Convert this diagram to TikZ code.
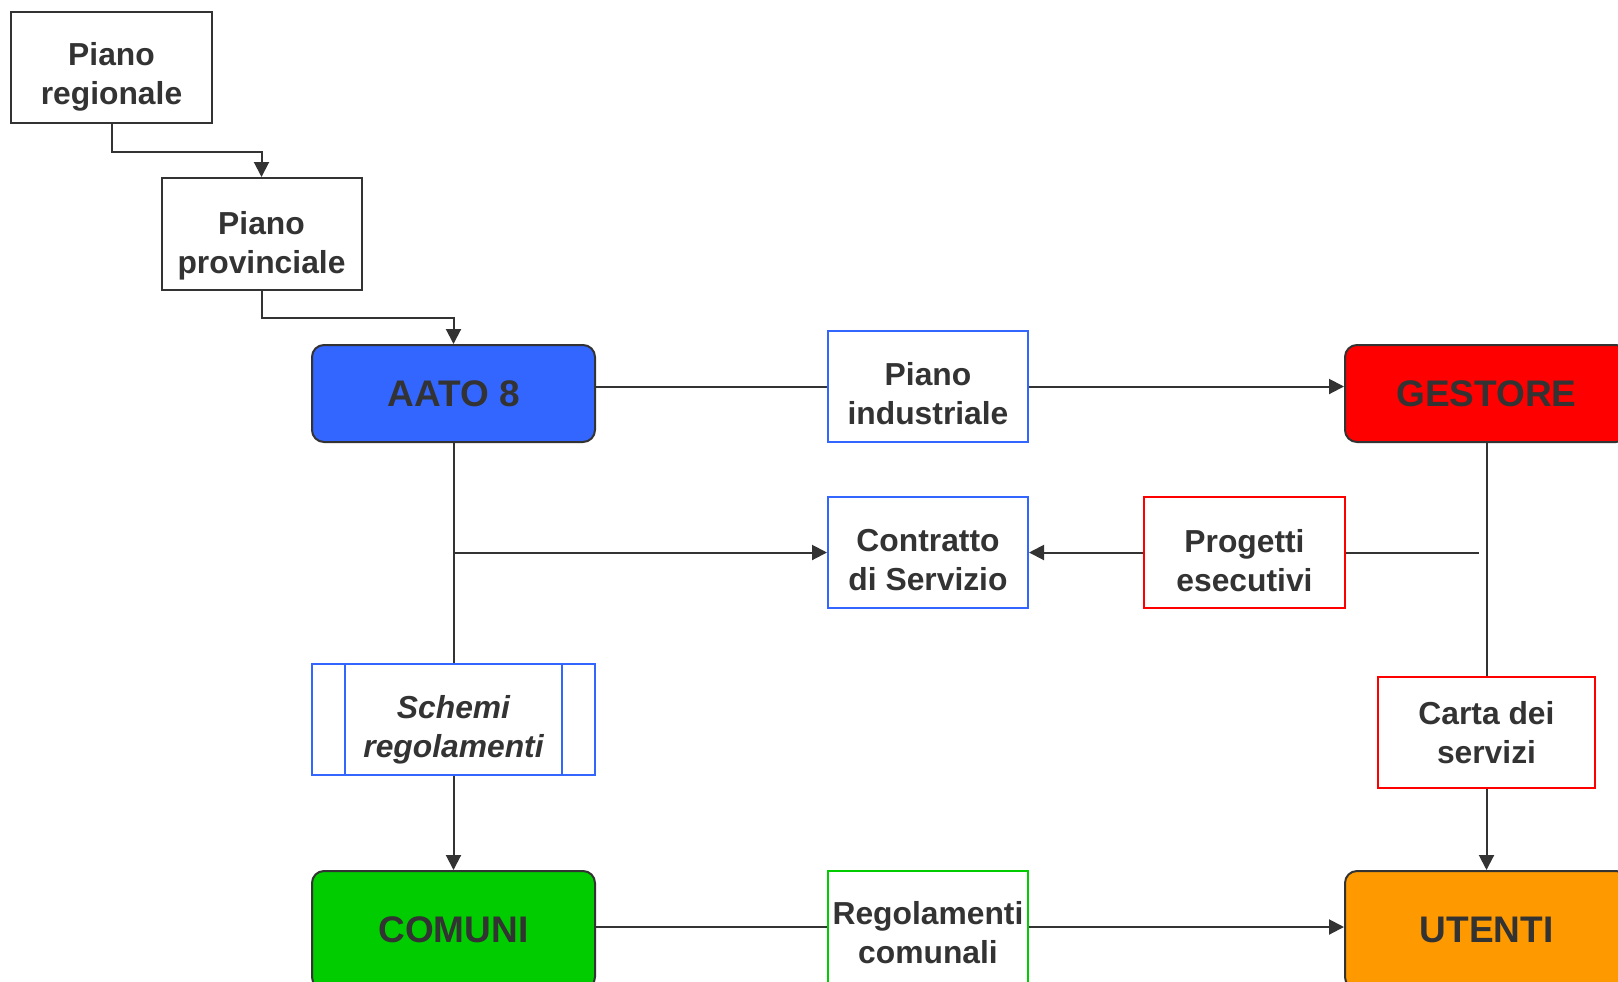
\documentclass[tikz,border=0pt]{standalone}
\usepackage{fontspec}
\setmainfont{Liberation Sans}
\usetikzlibrary{arrows.meta}

\definecolor{ink}{HTML}{333333}
\definecolor{aatoblue}{HTML}{3366FF}
\definecolor{gestred}{HTML}{FF0000}
\definecolor{comgreen}{HTML}{00CC00}
\definecolor{utorange}{HTML}{FF9900}

% two lines, first line lifted by a strut of height #1
\newcommand{\twolines}[3]{\rule{0pt}{#1}#2\\#3\rule[-3.5pt]{0pt}{0pt}}

\begin{document}
\begin{tikzpicture}[x=0.5pt,y=-0.5pt,
  line width=1pt,
  doc/.style={draw,rectangle,align=center,text=ink,fill=white,
    minimum width=100pt,minimum height=55.5pt,inner sep=0pt,
    font=\fontsize{15.9}{19.5}\selectfont\bfseries},
  actor/.style={draw=ink,rounded corners=6pt,text=ink,
    minimum width=141.5pt,inner sep=0pt,
    font=\fontsize{18.5}{22}\selectfont\bfseries},
  arr/.style={draw=ink,-{Triangle[length=7.5pt,width=7.5pt]}},
  link/.style={draw=ink}]
\useasboundingbox (0,0) rectangle (1618,981);
\clip (0,0) rectangle (1618,981);

% piani
\node[doc,draw=ink,minimum width=100.5pt] (reg) at (111.5,67.5) {\twolines{21.4pt}{Piano}{regionale}};
\node[doc,draw=ink,minimum height=56pt] (prov) at (261.5,234) {\twolines{23pt}{Piano}{provinciale}};

% soggetti
\node[actor,fill=aatoblue,minimum height=48.5pt] (aato) at (453.5,393.5) {AATO 8};
\node[actor,fill=gestred,minimum height=48.5pt] (gest) at (1486.5,393.5) {GESTORE};
\node[actor,fill=comgreen,minimum height=59pt] (comuni) at (453.5,930) {COMUNI};
\node[actor,fill=utorange,minimum height=59pt] (utenti) at (1486.5,930) {UTENTI};

% documenti
\node[doc,draw=aatoblue] (ind) at (928,386.5) {\twolines{22pt}{Piano}{industriale}};
\node[doc,draw=aatoblue] (contr) at (928,552.5) {\twolines{22.2pt}{Contratto}{di Servizio}};
\node[doc,draw=gestred,minimum width=100.5pt] (prog) at (1244.5,552.5) {\twolines{23.4pt}{Progetti}{esecutivi}};
\node[doc,draw=gestred,minimum width=108.5pt] (carta) at (1486.5,732.5) {\twolines{15pt}{Carta dei}{servizi}};
\node[doc,draw=comgreen,minimum height=59pt] (regc) at (928,930) {\twolines{17.4pt}{Regolamenti}{comunali}};
\node[doc,draw=aatoblue,minimum width=141.5pt,font=\fontsize{15.9}{19.5}\selectfont\bfseries\itshape] (schemi) at (453.5,719) {\twolines{22pt}{Schemi}{regolamenti}};
\draw[aatoblue] ([xshift=17pt]schemi.north west) -- ([xshift=17pt]schemi.south west);
\draw[aatoblue] ([xshift=-17pt]schemi.north east) -- ([xshift=-17pt]schemi.south east);

% collegamenti
\draw[arr] (reg.south) -- ++(0,28) -| (prov.north);
\draw[arr] (prov.south) -- ++(0,27) -| (aato.north);
\draw[link] (aato.east |- ind.west) -- (ind.west);
\draw[arr] (ind.east) -- (ind.east -| gest.west);
\draw[link] (aato.south) -- (schemi.north);
\draw[arr] (schemi.south) -- (comuni.north);
\coordinate (br) at (aato.south |- contr.west);
\draw[arr] (br) -- (contr.west);
\draw[arr] (prog.west) -- (contr.east);
\coordinate (pe) at (1479,552.5);
\draw[link] (prog.east) -- (pe);
\draw[link] (gest.south) -- (carta.north);
\draw[arr] (carta.south) -- (utenti.north);
\draw[link] ([yshift=1.5pt]comuni.east) -- ([yshift=1.5pt]comuni.east -| regc.west);
\draw[arr] ([yshift=1.5pt]regc.east) -- ([yshift=1.5pt]regc.east -| utenti.west);
\end{tikzpicture}
\end{document}
